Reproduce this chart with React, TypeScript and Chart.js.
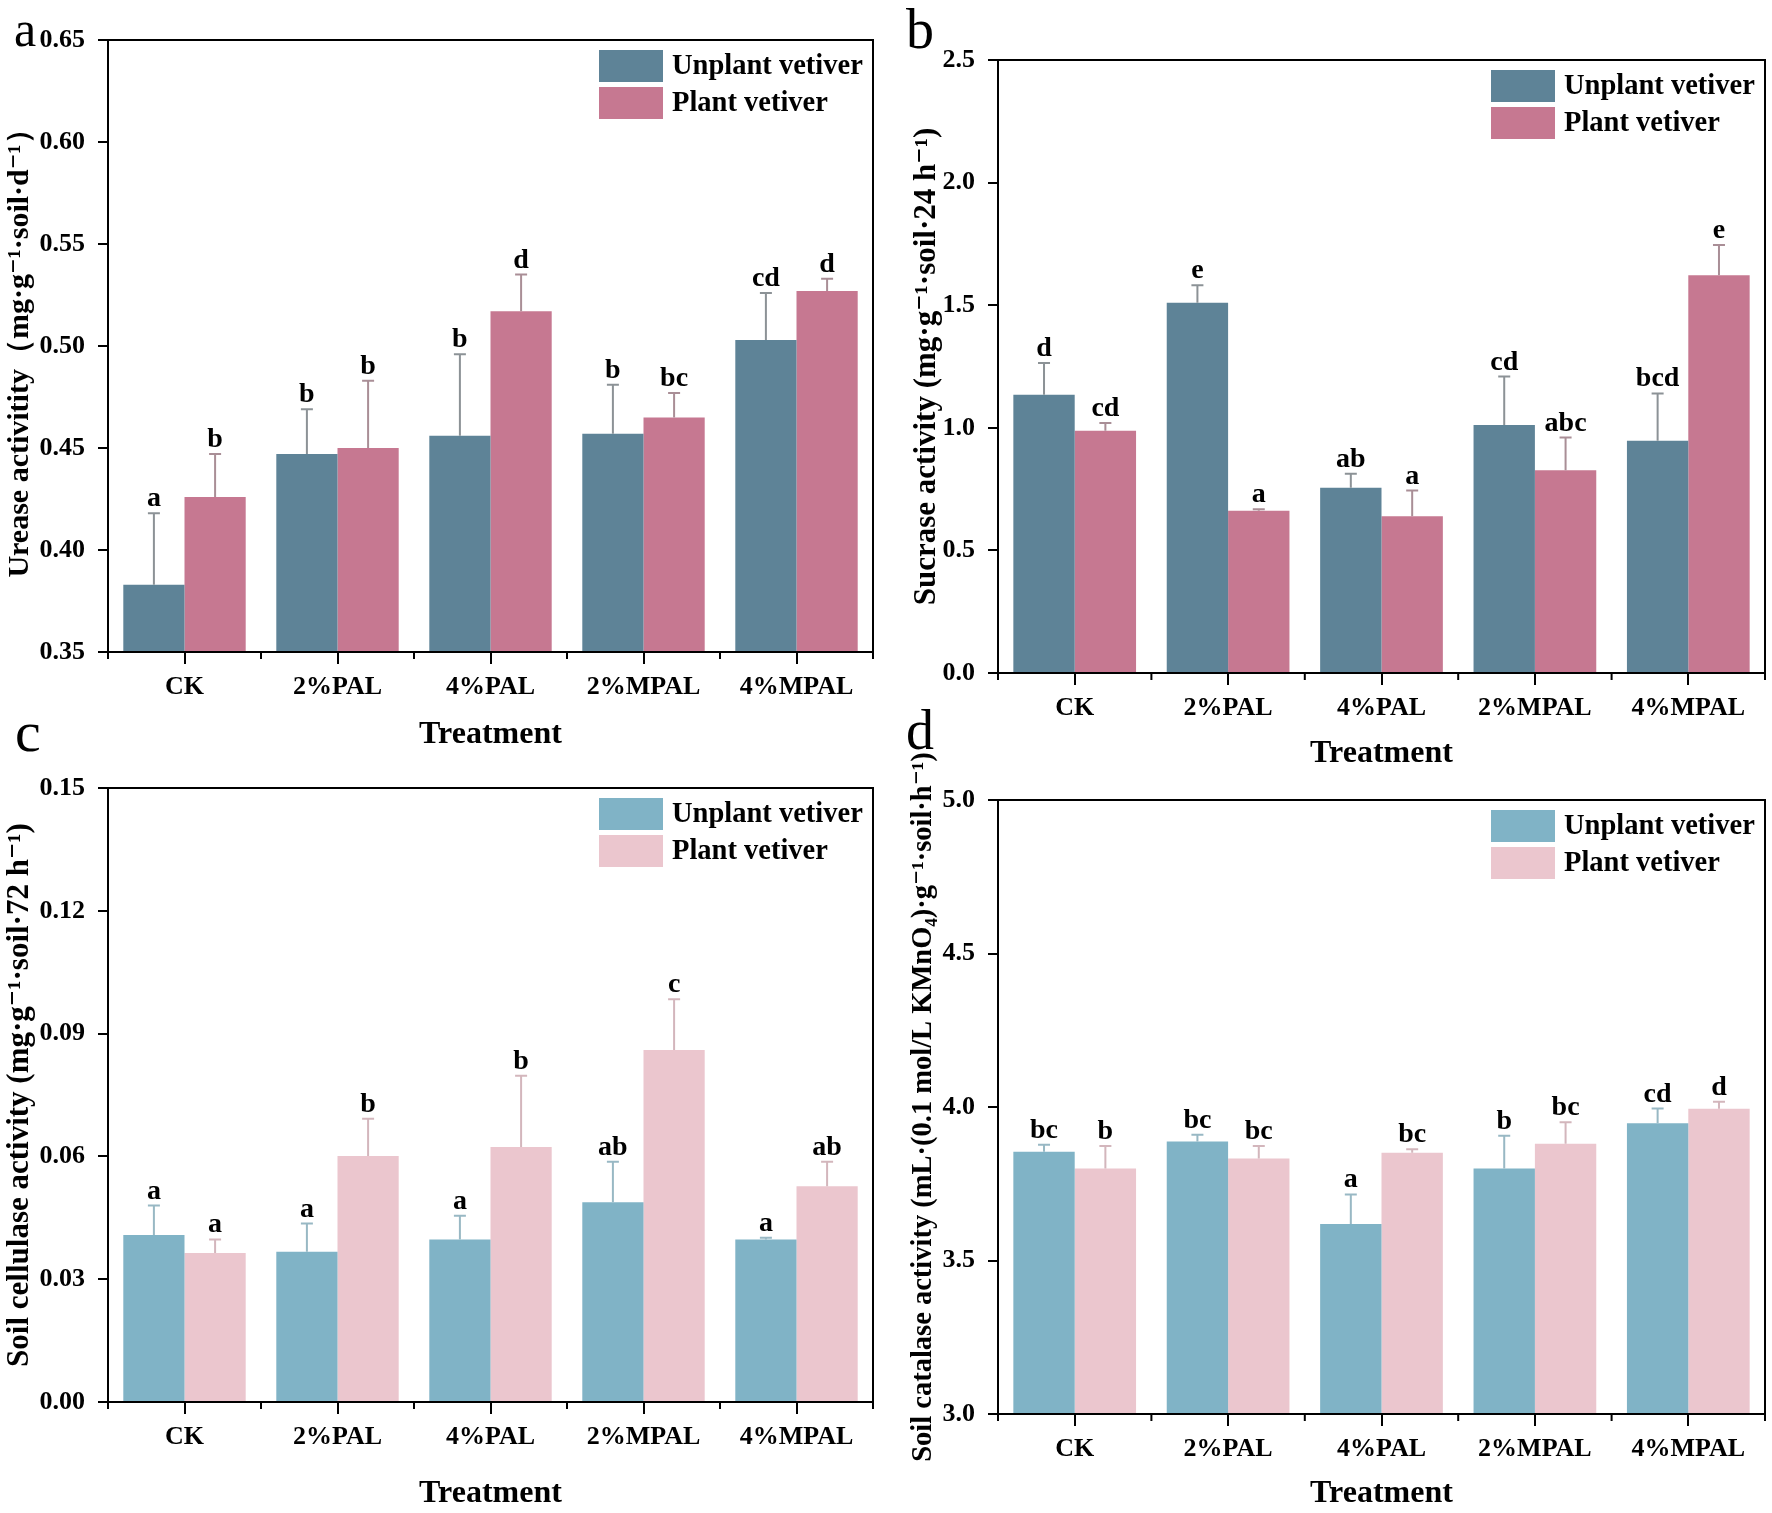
import React, { useEffect, useRef } from 'react';
import { Chart, registerables } from 'chart.js';

Chart.register(...registerables);

// ---------------- DATA ----------------
const categories = ['CK', '2%PAL', '4%PAL', '2%MPAL', '4%MPAL'];
const seriesNames = ['Unplant vetiver', 'Plant vetiver'];

// (a) Urease
const ureaseUnplant = [0.383, 0.447, 0.456, 0.457, 0.503];
const ureaseUnplantTop = [0.418, 0.469, 0.496, 0.481, 0.526];
const ureasePlant = [0.426, 0.45, 0.517, 0.465, 0.527];
const ureasePlantTop = [0.447, 0.483, 0.535, 0.477, 0.533];
const ureaseUnplantLetters = ['a', 'b', 'b', 'b', 'cd'];
const ureasePlantLetters = ['b', 'b', 'd', 'bc', 'd'];
const ureaseTicks = ['0.35', '0.40', '0.45', '0.50', '0.55', '0.60', '0.65'];

// (b) Sucrase
const sucraseUnplant = [1.135, 1.51, 0.755, 1.011, 0.947];
const sucraseUnplantTop = [1.264, 1.581, 0.813, 1.209, 1.14];
const sucrasePlant = [0.988, 0.662, 0.639, 0.827, 1.622];
const sucrasePlantTop = [1.02, 0.668, 0.744, 0.96, 1.746];
const sucraseUnplantLetters = ['d', 'e', 'ab', 'cd', 'bcd'];
const sucrasePlantLetters = ['cd', 'a', 'a', 'abc', 'e'];
const sucraseTicks = ['0.0', '0.5', '1.0', '1.5', '2.0', '2.5'];

// (c) Cellulase
const cellulaseUnplant = [0.0408, 0.0367, 0.0397, 0.0488, 0.0397];
const cellulaseUnplantTop = [0.048, 0.0436, 0.0455, 0.0587, 0.0401];
const cellulasePlant = [0.0364, 0.0601, 0.0623, 0.086, 0.0527];
const cellulasePlantTop = [0.0397, 0.0692, 0.0797, 0.0984, 0.0587];
const cellulaseUnplantLetters = ['a', 'a', 'a', 'ab', 'a'];
const cellulasePlantLetters = ['a', 'b', 'b', 'c', 'ab'];
const cellulaseTicks = ['0.00', '0.03', '0.06', '0.09', '0.12', '0.15'];

// (d) Catalase
const catalaseUnplant = [3.854, 3.888, 3.619, 3.8, 3.947];
const catalaseUnplantTop = [3.877, 3.91, 3.715, 3.906, 3.995];
const catalasePlant = [3.8, 3.832, 3.851, 3.88, 3.994];
const catalasePlantTop = [3.873, 3.873, 3.862, 3.95, 4.017];
const catalaseUnplantLetters = ['bc', 'bc', 'a', 'b', 'cd'];
const catalasePlantLetters = ['b', 'bc', 'bc', 'bc', 'd'];
const catalaseTicks = ['3.0', '3.5', '4.0', '4.5', '5.0'];

// ---------------- STYLE / LAYOUT ----------------
const FONT = "'Liberation Serif', 'Times New Roman', 'DejaVu Serif', serif";

type Panel = {
  key: string;
  letter: string;
  letterSize: number;
  letterPos: [number, number];
  canvas: { x: number; y: number; w: number; h: number };
  plot: { L: number; T: number; R: number; B: number };
  titleX: number;
  treatmentY: number;
  yTitle: string;
  yTitleSize: number;
  ticks: string[];
  values: number[][];
  tops: number[][];
  letters: string[][];
  colors: string[];
  errColors: string[];
};

const darkColors = ['#5E8397', '#C67891'];
const darkErr = ['#8C9296', '#A98E96'];
const lightColors = ['#80B3C6', '#EBC6CE'];
const lightErr = ['#98B8C4', '#D3B6BC'];

const panels: Panel[] = [
  {
    key: 'a', letter: 'a', letterSize: 50, letterPos: [14, 46],
    canvas: { x: 0, y: 0, w: 886, h: 770 },
    plot: { L: 108, T: 40, R: 873, B: 652 },
    titleX: 20, treatmentY: 735,
    yTitle: 'Urease activitity（mg·g⁻¹·soil·d⁻¹）', yTitleSize: 30,
    ticks: ureaseTicks,
    values: [ureaseUnplant, ureasePlant],
    tops: [ureaseUnplantTop, ureasePlantTop],
    letters: [ureaseUnplantLetters, ureasePlantLetters],
    colors: darkColors, errColors: darkErr,
  },
  {
    key: 'b', letter: 'b', letterSize: 56, letterPos: [906, 48],
    canvas: { x: 886, y: 0, w: 886, h: 790 },
    plot: { L: 998, T: 60, R: 1765, B: 673 },
    titleX: 927, treatmentY: 754,
    yTitle: 'Sucrase activity (mg·g⁻¹·soil·24 h⁻¹)', yTitleSize: 31,
    ticks: sucraseTicks,
    values: [sucraseUnplant, sucrasePlant],
    tops: [sucraseUnplantTop, sucrasePlantTop],
    letters: [sucraseUnplantLetters, sucrasePlantLetters],
    colors: darkColors, errColors: darkErr,
  },
  {
    key: 'c', letter: 'c', letterSize: 58, letterPos: [15, 751],
    canvas: { x: 0, y: 690, w: 886, h: 823 },
    plot: { L: 108, T: 788, R: 873, B: 1402 },
    titleX: 20, treatmentY: 1494,
    yTitle: 'Soil cellulase activity (mg·g⁻¹·soil·72 h⁻¹)', yTitleSize: 31,
    ticks: cellulaseTicks,
    values: [cellulaseUnplant, cellulasePlant],
    tops: [cellulaseUnplantTop, cellulasePlantTop],
    letters: [cellulaseUnplantLetters, cellulasePlantLetters],
    colors: lightColors, errColors: lightErr,
  },
  {
    key: 'd', letter: 'd', letterSize: 56, letterPos: [906, 749],
    canvas: { x: 886, y: 690, w: 886, h: 823 },
    plot: { L: 998, T: 800, R: 1765, B: 1414 },
    titleX: 924, treatmentY: 1494,
    yTitle: 'Soil catalase activity (mL·(0.1 mol/L KMnO₄)·g⁻¹·soil·h⁻¹)', yTitleSize: 28.5,
    ticks: catalaseTicks,
    values: [catalaseUnplant, catalasePlant],
    tops: [catalaseUnplantTop, catalasePlantTop],
    letters: [catalaseUnplantLetters, catalasePlantLetters],
    colors: lightColors, errColors: lightErr,
  },
];

function makeChart(canvas: HTMLCanvasElement, p: Panel) {
  const { x, y, w, h } = p.canvas;
  const { L, T, R, B } = p.plot;
  const xAxisH = p.treatmentY - B + 22;
  const treatSize = 32;
  const treatLH = treatSize * 1.2;
  const yLH = p.yTitleSize * 1.2;
  const tickVals = p.ticks.map((t) => parseFloat(t));

  const deco = {
    id: 'deco_' + p.key,
    afterDatasetsDraw(chart: any) {
      const ctx = chart.ctx;
      const ys = chart.scales.y;
      ctx.save();
      for (let k = 0; k < 2; k++) {
        const meta = chart.getDatasetMeta(k);
        meta.data.forEach((el: any, i: number) => {
          const bx = el.x;
          const by = el.y;
          const ty = ys.getPixelForValue(p.tops[k][i]);
          ctx.strokeStyle = p.errColors[k];
          ctx.lineWidth = 2;
          ctx.beginPath();
          ctx.moveTo(bx, by);
          ctx.lineTo(bx, ty);
          ctx.moveTo(bx - 6, ty);
          ctx.lineTo(bx + 6, ty);
          ctx.stroke();
          ctx.fillStyle = '#000';
          ctx.font = `bold 28px ${FONT}`;
          ctx.textAlign = 'center';
          ctx.textBaseline = 'alphabetic';
          ctx.fillText(p.letters[k][i], bx, ty - 7);
        });
      }
      ctx.restore();
    },
    afterDraw(chart: any) {
      const ctx = chart.ctx;
      const a = chart.chartArea;
      const xs = chart.scales.x;
      ctx.save();
      // frame
      ctx.strokeStyle = '#000';
      ctx.lineWidth = 2;
      ctx.strokeRect(a.left, a.top, a.right - a.left, a.bottom - a.top);
      // minor ticks at category boundaries
      ctx.beginPath();
      for (let i = 0; i <= categories.length; i++) {
        const px = xs.getPixelForValue(i - 0.5);
        ctx.moveTo(px, a.bottom);
        ctx.lineTo(px, a.bottom + 7);
      }
      ctx.stroke();
      // legend
      const lx = a.right - 274;
      let ly = a.top + 10;
      ctx.font = `bold 28.5px ${FONT}`;
      ctx.textAlign = 'left';
      ctx.textBaseline = 'middle';
      chart.data.datasets.forEach((ds: any) => {
        ctx.fillStyle = ds.backgroundColor;
        ctx.fillRect(lx, ly, 64, 32);
        ctx.fillStyle = '#000';
        ctx.fillText(ds.label, lx + 73, ly + 17);
        ly += 37;
      });
      // panel letter
      ctx.font = `${p.letterSize}px ${FONT}`;
      ctx.textBaseline = 'alphabetic';
      ctx.fillText(p.letter, p.letterPos[0] - x, p.letterPos[1] - y);
      ctx.restore();
    },
  };

  return new Chart(canvas, {
    type: 'bar',
    data: {
      labels: categories,
      datasets: [0, 1].map((k) => ({
        label: seriesNames[k],
        data: p.values[k],
        backgroundColor: p.colors[k],
        borderWidth: 0,
        barPercentage: 1,
        categoryPercentage: 0.8,
      })),
    },
    options: {
      animation: false,
      responsive: false,
      devicePixelRatio: 1,
      layout: {
        padding: { left: 0, top: T - y, right: x + w - R, bottom: y + h - B - xAxisH },
      },
      plugins: {
        legend: { display: false },
        tooltip: { enabled: false },
      },
      scales: {
        x: {
          offset: true,
          grid: {
            display: true, drawOnChartArea: false, drawTicks: true, tickLength: 12,
            offset: false, color: '#000', lineWidth: 2,
          },
          border: { display: true, color: '#000', width: 2 },
          ticks: {
            color: '#000', padding: 8, maxRotation: 0, autoSkip: false,
            font: { family: FONT, size: 26, weight: 'bold' },
          },
          title: {
            display: true, text: 'Treatment', color: '#000',
            font: { family: FONT, size: treatSize, weight: 'bold', lineHeight: 1.2 },
            padding: { top: 0, bottom: B + xAxisH - treatLH / 2 - p.treatmentY },
          },
          afterFit: (s: any) => { s.height = xAxisH; },
        },
        y: {
          min: tickVals[0],
          max: tickVals[tickVals.length - 1],
          afterBuildTicks: (s: any) => { s.ticks = tickVals.map((v) => ({ value: v })); },
          grid: {
            display: true, drawOnChartArea: false, drawTicks: true, tickLength: 10,
            color: '#000', lineWidth: 2,
          },
          border: { display: true, color: '#000', width: 2 },
          ticks: {
            color: '#000', padding: 13,
            font: { family: FONT, size: 26, weight: 'bold' },
            callback: (v: any) => {
              const idx = tickVals.findIndex((t) => Math.abs(t - Number(v)) < 1e-9);
              return idx >= 0 ? p.ticks[idx] : String(v);
            },
          },
          title: {
            display: true, text: p.yTitle, color: '#000',
            font: { family: FONT, size: p.yTitleSize, weight: 'bold', lineHeight: 1.2 },
            padding: { top: p.titleX - x - yLH / 2, bottom: 0 },
          },
          afterFit: (s: any) => { s.width = L - x; },
        },
      },
    } as any,
    plugins: [deco],
  });
}

function PanelCanvas({ p }: { p: Panel }) {
  const ref = useRef<HTMLCanvasElement | null>(null);
  useEffect(() => {
    if (!ref.current) return;
    const chart = makeChart(ref.current, p);
    return () => chart.destroy();
  }, [p]);
  return (
    <canvas
      ref={ref}
      width={p.canvas.w}
      height={p.canvas.h}
      style={{
        position: 'absolute',
        left: p.canvas.x,
        top: p.canvas.y,
        width: p.canvas.w,
        height: p.canvas.h,
      }}
    />
  );
}

export default function App() {
  return (
    <div
      style={{
        position: 'absolute',
        left: 0,
        top: 0,
        width: 1772,
        height: 1513,
        overflow: 'hidden',
        background: '#fff',
      }}
    >
      {panels.map((p) => (
        <PanelCanvas key={p.key} p={p} />
      ))}
    </div>
  );
}
